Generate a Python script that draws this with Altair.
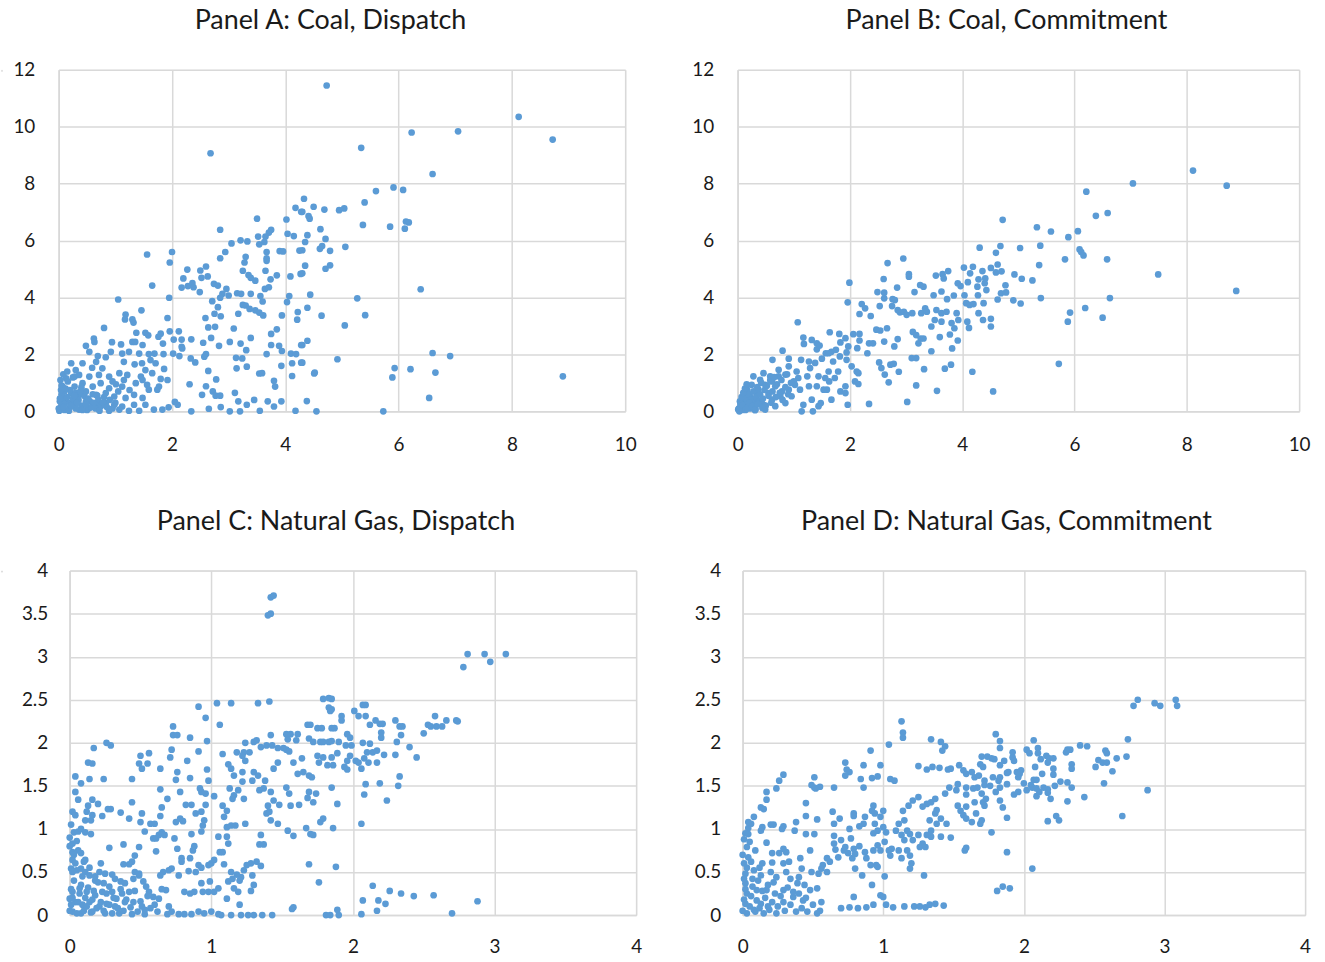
import altair as alt
import pandas as pd

# ---- axis ticks -------------------------------------------------------------
coal_x_ticks = [0, 2, 4, 6, 8, 10]
coal_y_ticks = [0, 2, 4, 6, 8, 10, 12]
gas_x_ticks = [0, 1, 2, 3, 4]
gas_y_ticks = [0, 0.5, 1, 1.5, 2, 2.5, 3, 3.5, 4]

titles = [
    "Panel A: Coal, Dispatch",
    "Panel B: Coal, Commitment",
    "Panel C: Natural Gas, Dispatch",
    "Panel D: Natural Gas, Commitment",
]

# ---- Panel A: coal, dispatch (x, y) ----------------------------------------
coal_dispatch = [
    (4.73, 11.45), (8.12, 10.35), (6.23, 9.80), (7.05, 9.84), (8.72, 9.55), (5.34, 9.26),
    (6.60, 8.34), (5.60, 7.74), (5.91, 7.87), (6.08, 7.78), (4.33, 7.47), (5.40, 7.34),
    (4.30, 7.01), (4.50, 7.19), (4.69, 7.09), (4.95, 7.07), (5.04, 7.13), (4.41, 6.86),
    (4.43, 6.77), (5.37, 6.55), (5.85, 6.49), (6.11, 6.42), (6.13, 6.67), (6.18, 6.64),
    (4.62, 6.40), (4.39, 6.19), (4.35, 5.95), (4.71, 6.06), (4.30, 5.66), (4.61, 5.71),
    (4.65, 5.81), (4.79, 5.64), (5.06, 5.78), (4.35, 5.12), (4.30, 4.85), (4.71, 5.01),
    (4.79, 5.13), (6.39, 4.29), (4.44, 4.10), (5.27, 3.97), (4.39, 3.64), (4.64, 3.36),
    (5.41, 3.38), (5.05, 3.02), (4.39, 2.48), (4.30, 2.33), (4.92, 1.83), (4.30, 1.71),
    (4.51, 1.33), (4.52, 1.36), (5.93, 1.52), (5.89, 1.19), (6.21, 1.48), (6.60, 2.05),
    (6.91, 1.94), (6.65, 1.36), (8.90, 1.23), (6.54, 0.47), (4.38, 0.36), (4.55, 0.00),
    (5.73, 0.00),
    (2.68, 9.07), (4.18, 7.15), (4.28, 7.01), (3.50, 6.77), (4.02, 6.74), (2.85, 6.38),
    (3.75, 6.38), (3.71, 6.28), (3.52, 6.14), (3.65, 6.14), (4.04, 6.24), (4.15, 6.16),
    (3.21, 6.01), (3.33, 5.97), (3.05, 5.90), (3.54, 5.87), (3.63, 5.95), (2.94, 5.60),
    (3.67, 5.60), (3.90, 5.63), (3.96, 5.62), (4.25, 5.65), (2.85, 5.38), (3.30, 5.43),
    (3.28, 5.23), (3.67, 5.29), (3.67, 5.38), (3.25, 4.94), (3.35, 4.79), (3.39, 4.69),
    (3.47, 4.59), (3.65, 4.94), (3.74, 4.64), (3.85, 4.78), (4.09, 4.74), (4.27, 4.83),
    (1.56, 5.51), (2.00, 5.60), (1.96, 5.23), (2.27, 4.98), (2.50, 4.95), (2.60, 5.09),
    (2.52, 4.69), (2.63, 4.74), (2.20, 4.67), (2.17, 4.35), (2.28, 4.40), (2.36, 4.51),
    (2.38, 4.36), (2.49, 4.19), (2.74, 4.48), (2.81, 4.42), (1.65, 4.42), (1.05, 3.93),
    (1.95, 3.99), (2.96, 4.30), (2.89, 4.13), (2.85, 3.99), (2.71, 3.87), (2.81, 3.66),
    (2.75, 3.43), (2.86, 3.34), (3.00, 4.07), (3.15, 4.15), (3.22, 4.13), (3.39, 4.13),
    (3.56, 4.05), (3.64, 4.30), (3.71, 4.36), (3.60, 3.86), (3.30, 3.72), (3.25, 3.74),
    (3.37, 3.60), (3.47, 3.55), (3.54, 3.47), (3.61, 3.37), (3.17, 3.43), (3.94, 3.37),
    (4.07, 4.05), (4.03, 3.84), (4.22, 3.49), (4.21, 3.22), (2.59, 3.28), (2.64, 2.95),
    (2.76, 2.97), (3.09, 2.91), (3.39, 2.58), (3.75, 2.72), (3.85, 2.88), (2.69, 2.58),
    (2.55, 2.41), (2.83, 2.30), (3.02, 2.44), (3.21, 2.38), (3.31, 2.15), (3.75, 2.33),
    (3.89, 2.30), (3.94, 2.12), (4.28, 2.33), (2.60, 2.01), (2.57, 1.92), (3.13, 1.88),
    (3.24, 1.86), (3.14, 1.51), (3.32, 1.57), (3.67, 2.01), (4.10, 2.03), (4.19, 2.01),
    (4.12, 1.69), (4.28, 1.71), (3.93, 1.60), (2.64, 1.42), (2.78, 1.12), (3.54, 1.33),
    (3.59, 1.34), (4.12, 1.24), (3.80, 1.07), (3.82, 0.87), (2.53, 0.58), (2.60, 0.88),
    (2.72, 0.70), (2.77, 0.55), (2.85, 0.55), (3.11, 0.65), (2.31, 0.95), (2.33, 1.86),
    (2.41, 1.72), (3.17, 0.35), (3.32, 0.23), (3.45, 0.40), (3.69, 0.35), (3.80, 0.17),
    (3.93, 0.35), (4.18, 0.02), (3.55, 0.02), (3.20, 0.00), (3.02, 0.00), (2.86, 0.15),
    (2.65, 0.09), (2.34, 0.00), (2.10, 0.23), (1.94, 0.14),
    (0.22, 1.69), (0.42, 1.69), (0.48, 2.30), (0.62, 2.56), (0.63, 2.44), (0.80, 2.93),
    (0.94, 2.43), (1.10, 2.35), (1.18, 3.40), (1.17, 3.23), (1.30, 3.23), (1.32, 3.12),
    (1.46, 3.55), (1.37, 2.76), (1.53, 2.76), (1.58, 2.67), (1.76, 2.62), (1.80, 2.73),
    (1.84, 2.38), (1.96, 2.81), (1.92, 3.28), (2.03, 2.52), (2.12, 2.81), (2.17, 2.52),
    (2.34, 2.53), (2.17, 2.27), (1.30, 2.44), (1.35, 2.44), (1.48, 2.33), (1.24, 2.09),
    (1.12, 2.03), (1.42, 2.03), (1.59, 2.01), (1.69, 2.03), (1.85, 2.01), (2.02, 2.03),
    (2.13, 1.94), (2.18, 2.21), (0.54, 2.09), (0.69, 1.94), (0.83, 1.90), (0.92, 2.09),
    (0.66, 1.74), (1.15, 1.74), (1.34, 1.65), (1.47, 1.69), (1.62, 1.80), (1.71, 1.69),
    (1.86, 1.49), (1.53, 1.45), (0.77, 1.51), (0.59, 1.53), (0.30, 1.45), (0.13, 1.16),
    (0.25, 1.19), (0.36, 1.28), (0.54, 1.22), (0.71, 1.28), (0.89, 1.22), (1.07, 1.34),
    (1.21, 1.28), (1.45, 1.22), (1.65, 1.34), (1.80, 1.14), (1.92, 1.10), (1.77, 0.87),
    (1.56, 0.93), (1.48, 1.10), (1.36, 0.99), (1.12, 0.87), (1.01, 0.95), (0.89, 0.81),
    (0.74, 0.99), (0.60, 0.87), (0.42, 0.99), (0.28, 0.87), (0.07, 0.87), (0.10, 0.70),
    (0.22, 0.64), (0.36, 0.58), (0.48, 0.70), (0.66, 0.58), (0.83, 0.64), (0.98, 0.52),
    (1.18, 0.47), (1.33, 0.58), (1.48, 0.47), (1.59, 0.76), (1.74, 0.76), (1.33, 0.23),
    (1.53, 0.23), (1.68, 0.06), (1.83, 0.06), (2.05, 0.33), (1.12, 0.17), (0.98, 0.23),
    (0.83, 0.29), (0.66, 0.23), (0.48, 0.35), (0.30, 0.29), (0.13, 0.35), (0.04, 0.17),
    (0.19, 0.12), (0.36, 0.06), (0.54, 0.12), (0.71, 0.06), (0.89, 0.02), (1.07, 0.06),
    (1.24, 0.02), (1.42, 0.02), (0.01, 0.02), (0.07, 0.47), (0.02, 0.35), (0.16, 1.05),
    (0.28, 1.22), (0.05, 0.60), (0.10, 0.25), (0.15, 0.50), (0.20, 0.30), (0.25, 0.45),
    (0.30, 0.10), (0.35, 0.40), (0.40, 0.20), (0.45, 0.55), (0.50, 0.05), (0.55, 0.35),
    (0.60, 0.60), (0.65, 0.10), (0.70, 0.40), (0.75, 0.20), (0.80, 0.50), (0.05, 0.90),
    (0.10, 0.05), (0.20, 0.75), (0.30, 0.65), (0.40, 0.85), (0.00, 0.10), (0.02, 0.45),
    (0.08, 0.15), (0.12, 0.80), (0.18, 0.02), (0.22, 0.20), (0.28, 0.55), (0.32, 0.30),
    (0.38, 0.70), (0.42, 0.05), (0.48, 0.25), (0.52, 0.45), (0.58, 0.15), (0.62, 0.30),
    (0.68, 0.55), (0.72, 0.02), (0.78, 0.30), (0.85, 0.15), (0.90, 0.40), (0.95, 0.10),
    (1.00, 0.30), (0.03, 1.10), (0.08, 1.30), (0.15, 1.40), (0.04, 0.75), (1.05, 0.70),
    (1.25, 0.75), (0.95, 1.05), (1.15, 1.10),
]

# ---- Panel B: coal, commitment ---------------------------------------------
coal_commitment = [
    (8.11, 8.46), (7.04, 8.01), (8.71, 7.93), (6.21, 7.72), (6.38, 6.87), (6.59, 6.97),
    (4.72, 6.73), (5.33, 6.47), (5.58, 6.32), (6.06, 6.33), (5.89, 6.12), (4.68, 5.81),
    (4.60, 5.57), (5.03, 5.74), (5.39, 5.82), (6.09, 5.69), (6.12, 5.60), (6.16, 5.48),
    (5.83, 5.34), (6.58, 5.34), (4.51, 5.04), (4.63, 5.16), (4.60, 4.88), (4.70, 4.92),
    (4.93, 4.81), (5.06, 4.66), (5.25, 4.60), (5.37, 5.14), (7.49, 4.81), (4.77, 4.43),
    (4.69, 4.15), (4.78, 4.18), (4.63, 3.93), (4.91, 3.90), (5.04, 3.79), (5.40, 3.98),
    (6.63, 3.98), (8.88, 4.23), (6.19, 3.63), (5.92, 3.47), (5.88, 3.15), (6.50, 3.29),
    (4.51, 3.25), (4.51, 2.98), (5.72, 1.67), (4.55, 0.70),
    (4.31, 5.75), (2.95, 5.37), (2.67, 5.21), (4.03, 5.05), (4.19, 5.08), (4.14, 4.85),
    (4.36, 4.93), (3.75, 4.93), (3.65, 4.82), (3.53, 4.77), (3.67, 4.67), (3.05, 4.82),
    (3.05, 4.73), (2.60, 4.65), (3.25, 4.44), (3.31, 4.38), (3.92, 4.50), (3.97, 4.40),
    (4.10, 4.54), (4.27, 4.38), (4.40, 4.50), (4.29, 4.64), (4.41, 4.67), (1.99, 4.52),
    (2.49, 4.19), (2.61, 4.17), (2.84, 4.35), (3.15, 4.19), (3.49, 4.08), (3.63, 4.21),
    (3.73, 3.94), (3.85, 4.07), (4.04, 4.08), (4.28, 4.08), (4.43, 4.26), (1.96, 3.83),
    (2.21, 3.77), (2.27, 3.62), (2.17, 3.42), (2.37, 3.35), (2.53, 3.70), (2.61, 3.97),
    (2.76, 3.94), (2.75, 3.70), (2.80, 3.91), (2.85, 3.56), (2.89, 3.48), (2.96, 3.50),
    (3.01, 3.39), (3.11, 3.45), (3.27, 3.45), (3.34, 3.62), (3.37, 3.50), (3.54, 3.56),
    (3.63, 3.45), (3.72, 3.50), (3.90, 3.45), (4.07, 3.80), (4.13, 3.74), (4.20, 3.77),
    (4.38, 3.80), (4.29, 3.45), (4.37, 3.21), (4.09, 3.15), (4.12, 2.93), (3.93, 3.21),
    (3.81, 3.10), (3.86, 2.92), (3.78, 2.70), (3.60, 2.61), (3.45, 2.98), (3.51, 3.21),
    (3.63, 3.15), (3.12, 2.79), (3.18, 2.68), (3.26, 2.56), (3.31, 2.56), (3.22, 2.39),
    (2.85, 2.54), (2.79, 2.28), (2.66, 2.92), (2.54, 2.84), (2.47, 2.87), (2.61, 2.45),
    (2.41, 2.39), (2.31, 2.04), (2.34, 2.39), (2.17, 2.72), (2.06, 2.71), (2.17, 2.49),
    (2.13, 2.22), (1.92, 2.57), (1.97, 2.28), (1.81, 2.72), (1.83, 2.42), (1.64, 2.78),
    (1.07, 3.13), (1.17, 2.59), (1.32, 2.51), (1.18, 2.37), (1.41, 2.39), (1.41, 2.18),
    (1.46, 2.31), (1.57, 2.04), (1.67, 2.09), (1.75, 2.16), (1.94, 2.07), (0.80, 2.13),
    (0.91, 1.85), (0.62, 1.81), (1.13, 1.81), (1.27, 1.75), (1.50, 1.85), (1.62, 2.04),
    (1.82, 1.93), (1.94, 1.81), (2.03, 1.58), (2.12, 1.40), (2.15, 1.34), (2.09, 1.05),
    (2.15, 0.96), (1.92, 0.88), (2.52, 1.72), (2.56, 1.52), (2.62, 1.29), (2.69, 1.02),
    (2.72, 1.64), (2.78, 1.67), (2.87, 1.39), (3.10, 1.87), (3.18, 1.87), (3.32, 1.48),
    (3.45, 2.11), (3.69, 1.50), (3.80, 1.64), (3.82, 2.21), (3.92, 2.49), (4.18, 1.39),
    (3.18, 0.91), (3.55, 0.72), (3.02, 0.33), (2.34, 0.26), (1.96, 0.23), (1.67, 0.41),
    (1.59, 0.76), (1.83, 0.70), (1.92, 0.64), (1.63, 1.05), (1.73, 1.17), (1.44, 0.18),
    (1.48, 0.29), (1.34, 0.00), (1.14, 0.00), (1.17, 0.23), (1.32, 0.41), (1.53, 0.76),
    (1.41, 0.88), (1.27, 0.88), (1.44, 1.23), (1.24, 1.23), (1.08, 1.17), (1.02, 0.93),
    (1.11, 0.76), (0.96, 0.53), (0.85, 0.29), (0.67, 0.18), (0.49, 0.06), (0.31, 0.04),
    (0.79, 0.70), (0.67, 0.88), (0.55, 0.64), (0.43, 0.41), (0.31, 0.29), (0.85, 1.29),
    (0.73, 1.23), (0.91, 1.58), (0.73, 1.46), (0.58, 1.23), (0.46, 1.34), (0.28, 1.23),
    (0.25, 0.93), (0.17, 0.76), (0.11, 0.58), (0.05, 0.29), (0.01, 0.06), (0.14, 0.18),
    (0.08, 0.41), (0.22, 0.53), (0.37, 0.76), (0.49, 0.93), (0.61, 1.05), (0.40, 1.11),
    (0.34, 0.58), (0.19, 0.35), (0.46, 0.23), (0.61, 0.41), (0.76, 0.53), (0.91, 0.76),
    (1.00, 1.05), (1.05, 1.40), (1.29, 1.52), (1.38, 1.70), (1.62, 1.40), (1.70, 1.75),
    (1.79, 1.40), (1.56, 1.17),
    (0.02, 0.10), (0.05, 0.20), (0.08, 0.05), (0.10, 0.30), (0.12, 0.15), (0.15, 0.45),
    (0.18, 0.25), (0.20, 0.60), (0.22, 0.10), (0.25, 0.40), (0.28, 0.70), (0.30, 0.20),
    (0.33, 0.50), (0.35, 0.85), (0.38, 0.35), (0.40, 0.60), (0.42, 1.00), (0.45, 0.45),
    (0.48, 0.75), (0.50, 0.20), (0.52, 0.90), (0.55, 0.55), (0.58, 1.10), (0.60, 0.30),
    (0.62, 0.70), (0.65, 1.20), (0.68, 0.50), (0.70, 0.95), (0.75, 0.65), (0.78, 1.10),
    (0.80, 0.40), (0.85, 0.85), (0.88, 1.30), (0.90, 0.60), (0.95, 1.00), (0.04, 0.35),
    (0.07, 0.50), (0.10, 0.65), (0.13, 0.80), (0.16, 0.95), (0.03, 0.00), (0.06, 0.12),
    (0.09, 0.22), (0.14, 0.05), (0.17, 0.12), (0.21, 0.30), (0.26, 0.18), (0.32, 0.08),
    (0.36, 0.25), (0.44, 0.12),
]

# ---- Panel C: natural gas, dispatch ----------------------------------------
gas_dispatch = [
    (2.81, 3.03), (2.93, 3.03), (3.08, 3.03), (2.97, 2.94), (2.78, 2.88), (2.07, 2.44),
    (2.09, 2.44), (2.01, 2.37), (2.04, 2.31), (2.09, 2.31), (1.92, 2.31), (1.92, 2.26),
    (1.85, 2.51), (1.85, 2.39), (2.12, 2.21), (2.16, 2.26), (2.19, 2.22), (2.21, 2.22),
    (2.30, 2.26), (2.33, 2.19), (2.35, 2.19), (2.34, 2.09), (2.20, 2.12), (2.20, 2.06),
    (2.50, 2.11), (2.53, 2.21), (2.55, 2.19), (2.58, 2.31), (2.59, 2.19), (2.63, 2.19),
    (2.66, 2.26), (2.73, 2.26), (2.74, 2.25), (1.85, 2.17), (1.87, 2.17), (1.96, 2.10),
    (1.98, 2.06), (1.85, 2.02), (1.90, 2.01), (1.95, 1.97), (1.99, 1.97), (2.07, 2.00),
    (2.12, 1.99), (2.31, 2.01), (2.40, 1.95), (1.89, 1.88), (1.96, 1.79), (1.85, 1.83),
    (1.86, 1.74), (1.94, 1.72), (1.96, 1.69), (1.98, 1.85), (2.02, 1.79), (2.04, 1.77),
    (2.06, 1.70), (2.08, 1.82), (2.10, 1.89), (2.14, 1.89), (2.17, 1.91), (2.11, 1.77),
    (2.17, 1.77), (2.22, 1.86), (2.30, 1.86), (2.45, 1.83), (2.33, 1.61), (2.32, 1.50),
    (2.09, 1.52), (2.19, 1.53), (2.08, 1.40), (2.24, 1.33), (1.89, 1.29), (1.85, 1.48),
    (1.86, 1.01), (2.06, 1.06), (1.88, 0.56), (2.14, 0.34), (2.26, 0.28), (2.34, 0.25),
    (2.43, 0.22), (2.57, 0.23), (2.88, 0.16), (2.07, 0.17), (2.18, 0.17), (2.23, 0.13),
    (2.17, 0.05), (2.06, 0.01), (1.89, 0.06), (1.90, 0.00), (2.70, 0.02),
    (1.42, 3.69), (1.44, 3.71), (1.40, 3.48), (1.42, 3.50), (0.91, 2.42), (1.04, 2.46),
    (1.14, 2.46), (1.33, 2.46), (1.41, 2.48), (1.79, 2.51), (1.83, 2.52), (1.83, 2.41),
    (1.84, 2.37), (0.96, 2.29), (1.06, 2.21), (0.73, 2.19), (0.73, 2.09), (0.76, 2.09),
    (0.85, 2.06), (0.97, 2.02), (0.17, 1.94), (0.26, 2.00), (0.29, 1.97), (0.13, 1.77),
    (0.16, 1.76), (0.04, 1.61), (0.08, 1.53), (0.14, 1.58), (0.24, 1.58), (0.44, 1.58),
    (0.50, 1.85), (0.56, 1.88), (0.49, 1.76), (0.51, 1.70), (0.55, 1.76), (0.64, 1.70),
    (0.71, 1.83), (0.72, 1.92), (0.76, 1.66), (0.75, 1.57), (0.83, 1.79), (0.91, 1.90),
    (0.85, 1.59), (0.97, 1.69), (0.98, 1.56), (1.08, 1.87), (1.12, 1.75), (1.14, 1.70),
    (1.16, 1.62), (1.18, 1.89), (1.24, 2.00), (1.27, 1.89), (1.30, 2.01), (1.32, 2.03),
    (1.35, 1.95), (1.39, 1.97), (1.43, 1.97), (1.47, 1.94), (1.51, 1.94), (1.53, 2.10),
    (1.56, 2.10), (1.61, 2.10), (1.54, 2.04), (1.60, 2.03), (1.68, 2.21), (1.70, 2.21),
    (1.75, 2.17), (1.78, 2.17), (1.69, 2.05), (1.72, 2.01), (1.77, 2.01), (1.79, 2.01),
    (1.83, 2.01), (1.42, 2.09), (1.23, 1.89), (1.22, 1.85), (1.22, 1.66), (1.22, 1.55),
    (1.24, 1.79), (1.29, 1.56), (1.30, 1.66), (1.33, 1.62), (1.38, 1.56), (1.34, 1.45),
    (1.37, 1.47), (1.42, 1.43), (1.44, 1.70), (1.47, 1.77), (1.53, 1.92), (1.55, 1.90),
    (1.58, 1.77), (1.61, 1.64), (1.64, 1.82), (1.65, 1.66), (1.69, 1.62), (1.71, 1.60),
    (1.75, 1.85), (1.76, 1.77), (1.79, 1.83), (1.82, 1.74), (1.69, 1.43), (1.68, 1.36),
    (1.72, 1.31), (1.74, 1.41), (1.62, 1.28), (1.56, 1.27), (1.55, 1.41), (1.53, 1.48),
    (1.48, 1.28), (1.44, 1.33), (1.40, 1.27), (1.39, 1.18), (1.41, 1.20), (1.42, 1.10),
    (1.47, 1.06), (1.54, 0.98), (1.58, 0.92), (1.67, 1.01), (1.70, 0.94), (1.72, 0.93),
    (1.77, 1.08), (1.79, 1.12), (1.69, 0.59), (1.76, 0.38), (1.57, 0.07), (1.58, 0.09),
    (1.81, 0.00), (1.84, 0.00), (1.35, 0.93), (1.34, 0.82), (1.37, 0.82), (1.32, 0.62),
    (1.35, 0.57), (1.28, 0.60), (1.25, 0.58), (1.29, 0.46), (1.30, 0.35), (1.28, 0.28),
    (1.23, 0.52), (1.21, 0.44), (1.20, 0.40), (1.18, 0.47), (1.15, 0.42), (1.14, 0.50),
    (1.12, 0.39), (1.16, 0.31), (1.19, 0.27), (1.20, 0.12), (1.11, 0.19), (1.05, 0.31),
    (1.02, 0.27), (0.99, 0.39), (1.00, 0.60), (1.02, 0.64), (1.06, 0.73), (1.09, 0.59),
    (1.08, 0.73), (1.12, 0.83), (1.11, 0.91), (1.05, 0.91), (1.11, 1.02), (1.14, 1.04),
    (1.17, 1.04), (1.24, 1.06), (1.09, 1.14), (1.11, 1.21), (1.08, 1.27), (1.15, 1.35),
    (1.16, 1.39), (1.13, 1.47), (1.19, 1.45), (1.23, 1.35), (1.02, 1.38), (0.96, 1.41),
    (0.93, 1.43), (0.92, 1.47), (0.96, 1.28), (0.93, 1.20), (0.89, 1.18), (0.95, 1.10),
    (0.94, 1.04), (0.93, 0.97), (0.86, 0.94), (0.86, 1.28), (0.82, 1.28), (0.78, 1.43),
    (0.78, 1.12), (0.75, 1.08), (0.80, 1.09), (0.74, 0.89), (0.76, 0.77), (0.79, 0.66),
    (0.79, 0.62), (0.85, 0.66), (0.88, 0.80), (0.87, 0.75), (0.91, 0.58), (0.93, 0.55),
    (0.98, 0.58), (0.89, 0.50), (0.84, 0.51), (0.72, 0.54), (0.70, 0.52), (0.66, 0.50),
    (0.64, 0.46), (0.77, 0.46), (0.81, 0.27), (0.85, 0.25), (0.88, 0.27), (0.93, 0.37),
    (0.94, 0.27), (0.98, 0.27), (0.68, 0.29), (0.63, 0.19), (0.59, 0.21), (0.56, 0.27),
    (0.54, 0.33), (0.52, 0.39), (0.49, 0.46), (0.46, 0.50), (0.45, 0.42), (0.49, 0.48),
    (0.49, 0.79), (0.46, 0.69), (0.44, 0.62), (0.42, 0.59), (0.38, 0.59), (0.38, 0.82),
    (0.28, 0.78), (0.42, 1.12), (0.51, 1.18), (0.50, 1.08), (0.53, 0.97), (0.57, 1.06),
    (0.60, 1.06), (0.59, 0.89), (0.61, 0.89), (0.63, 0.93), (0.61, 0.74), (0.65, 0.96),
    (0.67, 0.93), (0.65, 1.25), (0.64, 1.15), (0.69, 1.35), (0.64, 1.46), (0.44, 1.31),
    (0.36, 1.19), (0.29, 1.23), (0.27, 1.23), (0.23, 1.15), (0.20, 1.29), (0.16, 1.34),
    (0.13, 1.27), (0.12, 1.20), (0.11, 1.10), (0.15, 1.10), (0.16, 1.16), (0.06, 1.34),
    (0.04, 1.43), (0.04, 1.16), (0.03, 0.96), (0.06, 0.97), (0.08, 1.00), (0.11, 0.96),
    (0.15, 0.94), (0.02, 0.83), (0.05, 0.86), (0.02, 0.73), (0.08, 0.72), (0.11, 0.64),
    (0.02, 0.64), (0.01, 0.54), (0.08, 0.54), (0.11, 0.50), (0.14, 0.46), (0.22, 0.60),
    (0.21, 0.50), (0.25, 0.48), (0.30, 0.47), (0.32, 0.42), (0.28, 0.33), (0.24, 0.37),
    (0.18, 0.40), (0.36, 0.39), (0.39, 0.37), (0.42, 0.27), (0.37, 0.25), (0.33, 0.19),
    (0.30, 0.27), (0.23, 0.27), (0.18, 0.23), (0.12, 0.27), (0.07, 0.31), (0.02, 0.27),
    (0.00, 0.19), (0.04, 0.15), (0.09, 0.12), (0.14, 0.15), (0.21, 0.10), (0.26, 0.13),
    (0.32, 0.10), (0.39, 0.15), (0.45, 0.15), (0.51, 0.10), (0.57, 0.08), (0.02, 0.04),
    (0.08, 0.02), (0.16, 0.04), (0.25, 0.02), (0.35, 0.02), (0.44, 0.01), (0.53, 0.01),
    (0.69, 0.01), (0.72, 0.04), (0.77, 0.01), (0.81, 0.01), (0.86, 0.01), (0.91, 0.04),
    (0.95, 0.02), (1.00, 0.04), (1.05, 0.01), (1.07, 0.00), (1.14, 0.00), (1.21, 0.00),
    (1.26, 0.00), (1.30, 0.00), (1.36, 0.00), (1.43, 0.00), (0.70, 0.10),
    (0.00, 0.05), (0.01, 0.12), (0.02, 0.20), (0.01, 0.30), (0.03, 0.40), (0.02, 0.50),
    (0.04, 0.60), (0.03, 0.70), (0.05, 0.02), (0.06, 0.15), (0.07, 0.25), (0.08, 0.35),
    (0.09, 0.45), (0.10, 0.05), (0.11, 0.20), (0.12, 0.10), (0.13, 0.32), (0.15, 0.03),
    (0.16, 0.18), (0.17, 0.28), (0.19, 0.08), (0.20, 0.38), (0.22, 0.15), (0.24, 0.05),
    (0.26, 0.25), (0.28, 0.12), (0.30, 0.02), (0.31, 0.20), (0.34, 0.08), (0.36, 0.30),
    (0.38, 0.05), (0.40, 0.18), (0.43, 0.09), (0.46, 0.28), (0.48, 0.04), (0.50, 0.16),
    (0.53, 0.06), (0.55, 0.22), (0.60, 0.12), (0.62, 0.04), (0.65, 0.30), (0.00, 0.90),
    (0.01, 1.05), (0.02, 1.20), (0.00, 0.80), (0.05, 0.52), (0.06, 0.75), (0.10, 0.62),
    (0.14, 0.55), (0.18, 0.45),
]

# ---- Panel D: natural gas, commitment --------------------------------------
gas_commitment = [
    (2.81, 2.50), (2.78, 2.43), (2.93, 2.46), (2.97, 2.43), (3.08, 2.50), (3.09, 2.43),
    (2.74, 2.04), (2.07, 2.03), (1.83, 2.02), (1.83, 1.94), (2.02, 1.92), (2.04, 1.88),
    (2.10, 1.94), (2.10, 1.88), (1.92, 1.89), (1.92, 1.83), (1.93, 1.79), (1.86, 1.79),
    (1.83, 1.74), (2.12, 1.81), (2.16, 1.85), (2.18, 1.82), (2.21, 1.82), (2.17, 1.77),
    (2.21, 1.70), (2.08, 1.72), (2.30, 1.89), (2.31, 1.92), (2.33, 1.92), (2.40, 1.97),
    (2.45, 1.96), (2.34, 1.75), (2.34, 1.70), (2.53, 1.80), (2.56, 1.77), (2.59, 1.77),
    (2.58, 1.91), (2.59, 1.88), (2.66, 1.82), (2.73, 1.84), (2.51, 1.72), (2.63, 1.67),
    (2.57, 1.53), (2.88, 1.45), (2.70, 1.15), (1.89, 1.66), (1.88, 1.65), (1.83, 1.60),
    (1.95, 1.66), (1.98, 1.68), (1.96, 1.60), (1.97, 1.64), (1.88, 1.52), (1.83, 1.48),
    (1.93, 1.40), (1.96, 1.43), (2.00, 1.53), (2.05, 1.51), (2.07, 1.57), (2.09, 1.57),
    (2.13, 1.64), (2.02, 1.45), (2.06, 1.48), (2.09, 1.47), (2.09, 1.38), (2.11, 1.43),
    (2.14, 1.48), (2.17, 1.46), (2.17, 1.42), (2.19, 1.35), (2.22, 1.50), (2.26, 1.55),
    (2.31, 1.54), (2.34, 1.48), (2.21, 1.63), (2.31, 1.32), (2.43, 1.37), (2.17, 1.09),
    (2.23, 1.15), (2.25, 1.10), (1.83, 1.33), (1.85, 1.25), (1.88, 1.13), (1.88, 0.73),
    (2.06, 0.54), (1.85, 0.33), (1.90, 0.31),
    (1.13, 2.25), (1.14, 2.12), (1.14, 2.06), (1.04, 1.98), (1.34, 2.04), (1.41, 2.01),
    (1.44, 1.96), (1.42, 1.91), (0.91, 1.91), (1.80, 2.10), (1.70, 1.84), (1.74, 1.84),
    (1.77, 1.82), (1.79, 1.81), (1.69, 1.75), (1.71, 1.72), (0.73, 1.77), (0.74, 1.69),
    (0.76, 1.66), (0.73, 1.62), (0.86, 1.74), (0.98, 1.74), (0.92, 1.59), (0.96, 1.61),
    (0.84, 1.58), (0.86, 1.48), (1.05, 1.58), (1.08, 1.56), (1.25, 1.73), (1.31, 1.69),
    (1.35, 1.72), (1.40, 1.71), (1.46, 1.69), (1.48, 1.70), (1.54, 1.74), (1.57, 1.68),
    (1.59, 1.64), (1.63, 1.66), (1.65, 1.60), (1.68, 1.62), (1.72, 1.56), (1.78, 1.60),
    (1.82, 1.56), (1.72, 1.51), (1.76, 1.50), (1.67, 1.48), (1.64, 1.47), (1.59, 1.48),
    (1.53, 1.52), (1.47, 1.48), (1.44, 1.41), (1.52, 1.45), (1.59, 1.40), (1.70, 1.41),
    (1.80, 1.43), (1.73, 1.35), (1.71, 1.31), (1.72, 1.27), (1.65, 1.31), (1.59, 1.26),
    (1.53, 1.27), (1.55, 1.21), (1.57, 1.16), (1.59, 1.12), (1.63, 1.08), (1.66, 1.18),
    (1.69, 1.06), (1.77, 0.96), (1.70, 1.10), (1.81, 0.28), (1.58, 0.75), (1.59, 0.78),
    (1.48, 0.90), (1.41, 0.91), (1.38, 1.06), (1.45, 1.06), (1.41, 1.12), (1.37, 1.18),
    (1.33, 1.10), (1.34, 0.98), (1.34, 0.91), (1.31, 0.93), (1.28, 0.83), (1.26, 0.79),
    (1.21, 0.87), (1.19, 0.94), (1.17, 0.98), (1.25, 0.93), (1.30, 0.79), (1.31, 1.29),
    (1.28, 1.26), (1.34, 1.31), (1.37, 1.35), (1.38, 1.22), (1.25, 1.37), (1.21, 1.33),
    (1.18, 1.27), (1.14, 1.21), (1.15, 1.10), (1.11, 1.06), (1.09, 0.98), (1.13, 0.93),
    (1.15, 0.87), (1.17, 0.75), (1.19, 0.69), (1.19, 0.54), (1.20, 0.60), (1.13, 0.66),
    (1.11, 0.75), (1.06, 0.77), (1.04, 0.75), (1.05, 0.69), (0.98, 0.75), (0.93, 0.75),
    (0.96, 0.81), (1.01, 0.85), (1.02, 0.96), (1.00, 1.02), (0.96, 0.98), (0.93, 0.95),
    (0.94, 1.06), (0.98, 1.14), (1.00, 1.21), (0.94, 1.18), (0.92, 1.21), (0.93, 1.27),
    (0.86, 1.06), (0.87, 1.14), (0.83, 1.03), (0.79, 1.18), (0.79, 1.15), (0.76, 1.00),
    (0.77, 0.89), (0.79, 0.77), (0.80, 0.71), (0.78, 0.66), (0.83, 0.80), (0.87, 0.73),
    (0.88, 0.66), (0.91, 0.58), (0.95, 0.58), (0.96, 0.56), (0.85, 0.46), (0.80, 0.54),
    (0.70, 0.87), (0.72, 0.75), (0.75, 0.72), (0.73, 0.79), (0.66, 0.76), (0.65, 0.83),
    (0.65, 0.92), (0.65, 1.06), (0.64, 1.20), (0.69, 1.12), (0.68, 0.67), (0.62, 0.62),
    (0.60, 0.66), (0.57, 0.58), (0.56, 0.54), (0.60, 0.50), (0.54, 0.48), (0.49, 0.50),
    (0.42, 0.54), (0.41, 0.66), (0.48, 0.75), (0.45, 0.94), (0.51, 0.94), (0.51, 1.48),
    (0.49, 1.51), (0.52, 1.47), (0.55, 1.49), (0.51, 1.60), (0.65, 1.48), (0.45, 1.30),
    (0.45, 1.15), (0.53, 1.11), (0.38, 1.08), (0.37, 0.98), (0.29, 1.03), (0.28, 1.00),
    (0.22, 1.05), (0.20, 1.05), (0.14, 1.02), (0.13, 0.98), (0.06, 1.06), (0.04, 1.01),
    (0.24, 1.47), (0.26, 1.56), (0.29, 1.63), (0.17, 1.43), (0.17, 1.34), (0.13, 1.25),
    (0.15, 1.23), (0.08, 1.14), (0.04, 1.08), (0.04, 0.94), (0.05, 0.85), (0.17, 0.84),
    (0.21, 0.72), (0.26, 0.72), (0.31, 0.73), (0.29, 0.77), (0.29, 0.60), (0.33, 0.62),
    (0.21, 0.61), (0.14, 0.60), (0.04, 0.67), (0.08, 0.52), (0.07, 0.42), (0.13, 0.46),
    (0.20, 0.50), (0.24, 0.44), (0.31, 0.50), (0.34, 0.42), (0.39, 0.37), (0.40, 0.44),
    (0.44, 0.35), (0.48, 0.29), (0.53, 0.31), (0.56, 0.15), (0.46, 0.04), (0.53, 0.02),
    (0.43, 0.17), (0.36, 0.21), (0.29, 0.15), (0.24, 0.02), (0.18, 0.10), (0.13, 0.13),
    (0.08, 0.06), (0.03, 0.02), (0.02, 0.13), (0.03, 0.25), (0.10, 0.29), (0.17, 0.29),
    (0.23, 0.25), (0.29, 0.29), (0.36, 0.27), (0.02, 0.37), (0.02, 0.48), (0.03, 0.79),
    (0.01, 0.60), (0.70, 0.08), (0.76, 0.09), (0.79, 0.21), (0.82, 0.08), (0.88, 0.09),
    (0.92, 0.35), (0.98, 0.23), (1.00, 0.21), (0.93, 0.12), (1.02, 0.12), (1.07, 0.09),
    (1.15, 0.10), (1.22, 0.10), (1.26, 0.10), (1.30, 0.09), (1.33, 0.12), (1.37, 0.13),
    (1.43, 0.11), (1.01, 0.45), (1.29, 0.46),
    (0.00, 0.05), (0.01, 0.18), (0.02, 0.30), (0.01, 0.42), (0.03, 0.55), (0.05, 0.10),
    (0.06, 0.22), (0.07, 0.33), (0.09, 0.04), (0.10, 0.17), (0.11, 0.40), (0.12, 0.08),
    (0.14, 0.28), (0.15, 0.02), (0.16, 0.20), (0.18, 0.35), (0.19, 0.06), (0.21, 0.15),
    (0.22, 0.38), (0.25, 0.10), (0.27, 0.22), (0.30, 0.05), (0.32, 0.32), (0.34, 0.12),
    (0.38, 0.04), (0.40, 0.25), (0.42, 0.08), (0.45, 0.20), (0.50, 0.12), (0.55, 0.05),
    (0.00, 0.70), (0.01, 0.88), (0.02, 0.95), (0.06, 0.62), (0.09, 0.75), (0.12, 0.55),
]

DOT = "#5b9bd5"
GRID = "#d9d9d9"
FONT = "Lato"


def hairline(**enc):
    """Invisible zero-width rule that only reserves room around a panel."""
    return (
        alt.Chart(pd.DataFrame({"k": [0]}))
        .mark_rule(color="white", strokeWidth=0)
        .encode(**enc)
    )


def panel(points, title, x_ticks, y_ticks, width, height, title_dx,
          left, right, below, x_pad, y_pad):
    df = pd.DataFrame(points, columns=["x", "y"])
    axis_common = dict(
        grid=True, gridColor=GRID, gridWidth=1.5,
        domain=True, domainColor=GRID, domainWidth=1.5,
        ticks=False, tickSize=0,
        labelFont=FONT, labelFontSize=19, labelColor="#1a1a1a",
        labelFlush=False, labelOverlap=False, format="~f", title=None,
    )
    dots = alt.Chart(df).mark_circle(size=45, color=DOT, opacity=1).encode(
        x=alt.X(
            "x:Q",
            scale=alt.Scale(domain=[x_ticks[0], x_ticks[-1]], nice=False),
            axis=alt.Axis(values=x_ticks, labelPadding=x_pad, **axis_common),
        ),
        y=alt.Y(
            "y:Q",
            scale=alt.Scale(domain=[y_ticks[0], y_ticks[-1]], nice=False),
            axis=alt.Axis(values=y_ticks, labelPadding=y_pad, **axis_common),
        ),
    )
    margin_left = hairline(x=alt.value(-left), y=alt.value(0), y2=alt.value(1))
    margin_right = hairline(x=alt.value(right), y=alt.value(0), y2=alt.value(1))
    margin_below = hairline(x=alt.value(0), x2=alt.value(1), y=alt.value(height + below))
    return alt.layer(dots, margin_left, margin_right, margin_below).properties(
        width=width,
        height=height,
        title=alt.TitleParams(
            text=title, anchor="middle", dx=title_dx, offset=5,
            font=FONT, fontSize=27, fontWeight="normal", color="#1a1a1a",
            baseline="alphabetic",
        ),
    )


def spacer():
    return hairline(x=alt.value(0), x2=alt.value(1), y=alt.value(0)).properties(
        width=1, height=1
    )


panel_a = panel(coal_dispatch, titles[0], coal_x_ticks, coal_y_ticks,
                569, 343, -11.5, 55, 624, 60, 24, 24)
panel_b = panel(coal_commitment, titles[1], coal_x_ticks, coal_y_ticks,
                564, 343, -12, 56, 589, 60, 24, 24)
panel_c = panel(gas_dispatch, titles[2], gas_x_ticks, gas_y_ticks,
                569, 346, -17, 66, 613, 45, 23, 22)
panel_d = panel(gas_commitment, titles[3], gas_x_ticks, gas_y_ticks,
                565, 346, -17.5, 61, 584, 45, 23, 22)

top_row = alt.hconcat(spacer(), panel_a, panel_b, spacing=0)
bottom_row = alt.hconcat(spacer(), panel_c, panel_d, spacing=0)

chart = (
    alt.concat(top_row, bottom_row, columns=1, spacing=35)
    .properties(padding={"left": 0, "top": 4, "right": 0, "bottom": 0})
    .configure_view(stroke=None)
    .configure(background="white")
)

chart.save("out.html", embed_options={"renderer": "svg", "actions": False})
